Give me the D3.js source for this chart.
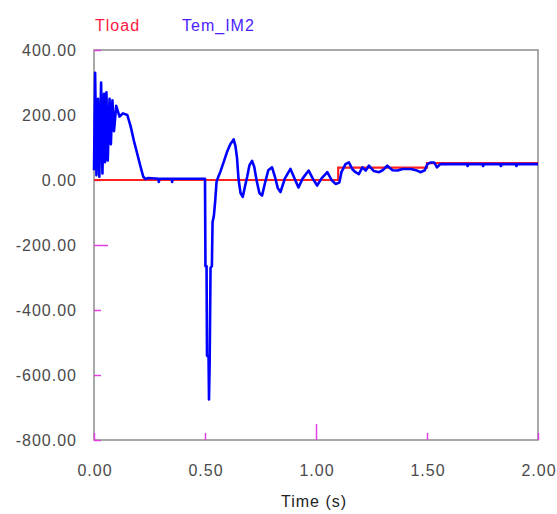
<!DOCTYPE html>
<html>
<head>
<meta charset="utf-8">
<script src="https://cdn.jsdelivr.net/npm/d3@7"></script>
<style>
  body { margin: 0; background: #fff; }
  text { font-family: "Liberation Sans", Arial, sans-serif; }
</style>
</head>
<body>
<div id="my_dataviz"></div>
<script>
// data
var tLoad = [0, 1.1, 1.5, 2.0],
    vLoad = [0, 38, 52, 52];

var tTem = [0.000, 0.005, 0.011, 0.018, 0.024, 0.032, 0.038, 0.045, 0.050, 0.056,
  0.062, 0.070, 0.076, 0.083, 0.090, 0.100, 0.115, 0.130, 0.150, 0.165,
  0.180, 0.195, 0.210, 0.222, 0.232, 0.245, 0.290, 0.292, 0.295, 0.350,
  0.352, 0.355, 0.500, 0.502, 0.507, 0.509, 0.516, 0.518, 0.521, 0.525,
  0.531, 0.534, 0.540, 0.546, 0.552, 0.560, 0.569, 0.584, 0.599, 0.614,
  0.629, 0.637, 0.644, 0.651, 0.660, 0.670, 0.680, 0.690, 0.700, 0.712,
  0.722, 0.732, 0.745, 0.757, 0.770, 0.785, 0.802, 0.815, 0.828, 0.840,
  0.860, 0.885, 0.900, 0.921, 0.940, 0.967, 0.985, 1.005, 1.025, 1.051,
  1.070, 1.088, 1.105, 1.115, 1.133, 1.148, 1.163, 1.178, 1.193, 1.209,
  1.224, 1.238, 1.260, 1.284, 1.300, 1.321, 1.345, 1.367, 1.390, 1.427,
  1.455, 1.472, 1.490, 1.502, 1.517, 1.532, 1.545, 1.560, 1.577, 1.680,
  1.683, 1.686, 1.750, 1.753, 1.756, 1.830, 1.833, 1.836, 1.900, 1.903,
  1.906, 2.000];
var vTem = [30, 330, 15, 250, 10, 300, 20, 265, 55, 270,
  60, 250, 110, 245, 150, 228, 195, 205, 200, 165,
  120, 80, 40, 10, 3, 6, 4, -6, 4, 4,
  -6, 4, 4, -265, -265, -540, -545, -675, -560, -270,
  -265, -130, -110, -64, -6, 10, 25, 55, 86, 110,
  125, 105, 70, 3, -40, -52, -20, 10, 45, 59,
  40, 0, -40, -48, -10, 30, 39, 10, -25, -37,
  5, 34, 10, -23, 5, 29, 5, -17, 5, 24,
  0, -12, -8, 25, 49, 54, 34, 24, 18, 39,
  29, 44, 28, 24, 30, 44, 30, 29, 34, 34,
  29, 24, 30, 49, 54, 54, 39, 49, 49, 49,
  43, 49, 49, 43, 49, 49, 43, 49, 49, 43,
  49, 49];

var xTicks = [0, 0.5, 1.0, 1.5, 2.0],
    yTicks = [400, 200, 0, -200, -400, -600, -800];

// set the dimensions and margins of the graph
var margin = {
    top: 50,
    right: 19,
    bottom: 74,
    left: 94
  },
  width = 557 - margin.left - margin.right,
  height = 514 - margin.top - margin.bottom;

var svg = d3.select("#my_dataviz")
  .append("svg")
  .attr("width", 557)
  .attr("height", 514)
  .append("g")
  .attr("transform", "translate(" + margin.left + "," + margin.top + ")");

var x = d3.scaleLinear()
  .domain([0, 2])
  .range([0, width]);
var y = d3.scaleLinear()
  .domain([-800, 400])
  .range([height, 0]);

//------------------------------------------------------------------------//
// frame and little magenta ticks inside it
svg.append("rect")
  .attr("x", 0).attr("y", 0)
  .attr("width", width).attr("height", height)
  .attr("fill", "none")
  .attr("stroke", "#8c8c8c")
  .attr("stroke-width", 1.5);

svg.append("g")
  .attr("transform", "translate(0," + height + ")")
  .call(d3.axisTop(x)
    .tickValues(xTicks)
    .tickSize(7)
    .tickFormat(""))
  .call(function(g) {
    g.select(".domain").remove();
    g.selectAll(".tick line").attr("stroke", "#e040e0").attr("stroke-width", 1.5)
      .attr("y2", function(d) { return d == 1.0 ? -16 : -7; });
  });

svg.append("g")
  .call(d3.axisRight(y)
    .tickValues(yTicks)
    .tickSize(7)
    .tickFormat(""))
  .call(function(g) {
    g.select(".domain").remove();
    g.selectAll(".tick line").attr("stroke", "#e040e0").attr("stroke-width", 1.5)
      .attr("x2", function(d) { return d == -200 ? 14 : 7; });
  });

// tick labels
svg.selectAll("ylab")
  .data(yTicks)
  .enter()
  .append("text")
  .attr("x", -17)
  .attr("y", function(d) { return y(d); })
  .attr("dy", "0.4em")
  .attr("text-anchor", "end")
  .style("font-size", "16px")
  .style("letter-spacing", "1px")
  .attr("fill", "#4a4a4a")
  .text(function(d) { return d.toFixed(2); });

svg.selectAll("xlab")
  .data(xTicks)
  .enter()
  .append("text")
  .attr("x", function(d) { return x(d) + 1; })
  .attr("y", height + 36)
  .attr("text-anchor", "middle")
  .style("font-size", "16px")
  .style("letter-spacing", "1px")
  .attr("fill", "#4a4a4a")
  .text(function(d) { return d.toFixed(2); });

svg.append("text")
  .attr("text-anchor", "middle")
  .attr("x", x(1) - 2)
  .attr("y", height + 67)
  .style("font-size", "16px")
  .style("letter-spacing", "1px")
  .attr("fill", "#222")
  .text("Time (s)");

//------------------------------------------------------------------------//
// legend
svg.append("text")
  .attr("x", 1).attr("y", -19)
  .style("font-size", "16px")
  .style("letter-spacing", "1px")
  .attr("fill", "#ff1744")
  .text("Tload");
svg.append("text")
  .attr("x", 88).attr("y", -19)
  .style("font-size", "16px")
  .style("letter-spacing", "1px")
  .attr("fill", "#4b1cff")
  .text("Tem_IM2");

//------------------------------------------------------------------------//
// the two curves
svg.append("path")
  .datum(d3.range(tLoad.length))
  .attr("fill", "none")
  .attr("stroke", "#ff2020")
  .attr("stroke-width", 2.2)
  .attr("d", d3.line()
    .curve(d3.curveStepAfter)
    .x(function(i) { return x(tLoad[i]); })
    .y(function(i) { return y(vLoad[i]); }));

svg.append("path")
  .datum(d3.range(tTem.length))
  .attr("fill", "none")
  .attr("stroke", "#0000ff")
  .attr("stroke-width", 2.6)
  .attr("stroke-linejoin", "round")
  .attr("d", d3.line()
    .x(function(i) { return x(tTem[i]); })
    .y(function(i) { return y(vTem[i]); }));
</script>
</body>
</html>
